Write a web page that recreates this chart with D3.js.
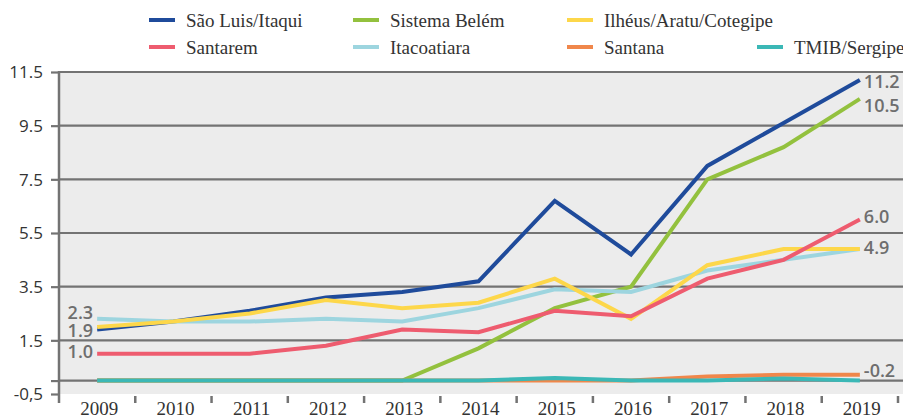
<!DOCTYPE html>
<html>
<head>
<meta charset="utf-8">
<script src="https://cdn.jsdelivr.net/npm/d3@7"></script>
<style>
  body { margin: 0; background: #fff; }
  svg { display: block; }
  .ytick text { font-family: "Open Sans", sans-serif; font-size: 17px; fill: #333; }
  .xtick { font-family: "Liberation Serif", serif; font-size: 19px; fill: #333; }
  .legend text { font-family: "Liberation Serif", serif; font-size: 19px; fill: #333; }
  .vlabel { font-family: "Open Sans", sans-serif; font-size: 18px; fill: #6e6e6e; font-weight: 600; }
</style>
</head>
<body>
<div id="chart"></div>
<script>
var years = ["2009","2010","2011","2012","2013","2014","2015","2016","2017","2018","2019"];

var saoLuis     = [1.9, 2.2, 2.6, 3.1, 3.3, 3.7, 6.7, 4.7, 8.0, 9.6, 11.2];
var sistema     = [0, 0, 0, 0, 0, 1.2, 2.7, 3.5, 7.5, 8.7, 10.5];
var ilheus      = [2.0, 2.2, 2.5, 3.0, 2.7, 2.9, 3.8, 2.3, 4.3, 4.9, 4.9];
var santarem    = [1.0, 1.0, 1.0, 1.3, 1.9, 1.8, 2.6, 2.4, 3.8, 4.5, 6.0];
var itacoatiara = [2.3, 2.2, 2.2, 2.3, 2.2, 2.7, 3.4, 3.3, 4.1, 4.5, 4.9];
var santana     = [0, 0, 0, 0, 0, 0, 0, 0, 0.15, 0.22, 0.22];
var tmib        = [0, 0, 0, 0, 0, 0, 0.1, 0, 0, 0.08, 0];

var yTicks = [-0.5, 0, 1.5, 3.5, 5.5, 7.5, 9.5, 11.5];
var gridValues = [0, 1.5, 3.5, 5.5, 7.5, 9.5, 11.5];

var series = [
  {name: "São Luis/Itaqui", values: saoLuis, color: "#1f4b9b"},
  {name: "Sistema Belém", values: sistema, color: "#93c13e"},
  {name: "Itacoatiara", values: itacoatiara, color: "#9dd5df"},
  {name: "Ilhéus/Aratu/Cotegipe", values: ilheus, color: "#fdd74a"},
  {name: "Santarem", values: santarem, color: "#ee5c6f"},
  {name: "Santana", values: santana, color: "#f0874b"},
  {name: "TMIB/Sergipe", values: tmib, color: "#3bb8b6"}
];

// legend layout rows
var legendRows = [
  ["São Luis/Itaqui", "Sistema Belém", "Ilhéus/Aratu/Cotegipe"],
  ["Santarem", "Itacoatiara", "Santana", "TMIB/Sergipe"]
];

// value labels at the line ends
var leftLabels = [
  {name: "Itacoatiara", text: "2.3", dy: -6},
  {name: "São Luis/Itaqui", text: "1.9", dy: 1},
  {name: "Santarem", text: "1.0", dy: -2}
];
var rightLabels = [
  {name: "São Luis/Itaqui", text: "11.2", dy: 2},
  {name: "Sistema Belém", text: "10.5", dy: 7},
  {name: "Santarem", text: "6.0", dy: -3},
  {name: "Itacoatiara", text: "4.9", dy: -1},
  {name: "Santana", text: "-0.2", dy: -4}
];

var width = 903, height = 416;
var margin = {top: 72, right: 5, bottom: 22, left: 59};

var svg = d3.select("#chart").append("svg")
  .attr("width", width)
  .attr("height", height);

var x = d3.scaleBand()
  .domain(years)
  .range([margin.left, width - margin.right])
  .paddingInner(0).paddingOuter(0);

var y = d3.scaleLinear()
  .domain([-0.5, 11.5])
  .range([height - margin.bottom, margin.top]);

var cx = function(i) { return x(years[i]) + x.bandwidth() / 2; };

// plot background
svg.append("rect")
  .attr("x", margin.left)
  .attr("y", y(11.5))
  .attr("width", width - margin.left)
  .attr("height", y(-0.5) - y(11.5))
  .attr("fill", "#ececec");

// grid lines
svg.append("g").selectAll("line")
  .data(gridValues).enter().append("line")
  .attr("x1", margin.left).attr("x2", width)
  .attr("y1", function(d) { return y(d); })
  .attr("y2", function(d) { return y(d); })
  .attr("stroke", "#737373")
  .attr("stroke-width", 2.2);

// y axis
var yAxis = d3.axisLeft(y)
  .tickValues(yTicks)
  .tickSize(8)
  .tickPadding(8)
  .tickFormat(function(d) {
    if (d === 0) return "";
    if (d === -0.5) return "-0,5";
    return d3.format(".1f")(d);
  });

var gy = svg.append("g")
  .attr("class", "ytick")
  .attr("transform", "translate(" + margin.left + ",0)")
  .call(yAxis);
gy.select(".domain").remove();
gy.selectAll("line").attr("stroke", "#737373").attr("stroke-width", 2.2);
gy.selectAll("text").attr("dy", "0.35em");

// left axis line
svg.append("line")
  .attr("x1", margin.left).attr("x2", margin.left)
  .attr("y1", y(11.5) - 1).attr("y2", y(-0.5) + 9)
  .attr("stroke", "#737373").attr("stroke-width", 2.5);

// x ticks at band edges
var edges = years.slice(1).map(function(d) { return x(d); }).concat([x.range()[1]]);
svg.append("g").selectAll("line")
  .data(edges).enter().append("line")
  .attr("x1", function(d) { return d; }).attr("x2", function(d) { return d; })
  .attr("y1", y(-0.5) + 2).attr("y2", y(-0.5) + 9)
  .attr("stroke", "#737373").attr("stroke-width", 2.5);

svg.append("g").selectAll("text")
  .data(years).enter().append("text")
  .attr("class", "xtick")
  .attr("x", function(d) { return x(d) + x.bandwidth() / 2 + 2; })
  .attr("y", y(-0.5) + 21)
  .attr("text-anchor", "middle")
  .text(function(d) { return d; });

// lines
var line = d3.line()
  .x(function(d, i) { return cx(i); })
  .y(function(d) { return y(d); });

svg.append("g").selectAll("path")
  .data(series).enter().append("path")
  .attr("d", function(d) { return line(d.values); })
  .attr("fill", "none")
  .attr("stroke", function(d) { return d.color; })
  .attr("stroke-width", 4)
  .attr("stroke-linejoin", "miter");

var byName = {};
series.forEach(function(s) { byName[s.name] = s; });

// value labels
svg.append("g").selectAll("text")
  .data(leftLabels).enter().append("text")
  .attr("class", "vlabel")
  .attr("x", cx(0) - 4)
  .attr("y", function(d) { return y(byName[d.name].values[0]) + d.dy; })
  .attr("dy", "0.35em")
  .attr("text-anchor", "end")
  .text(function(d) { return d.text; });

var last = years.length - 1;
svg.append("g").selectAll("text")
  .data(rightLabels).enter().append("text")
  .attr("class", "vlabel")
  .attr("x", cx(last) + 4)
  .attr("y", function(d) { return y(byName[d.name].values[last]) + d.dy; })
  .attr("dy", "0.35em")
  .attr("text-anchor", "start")
  .text(function(d) { return d.text; });

// legend
var legendCols = [149, 353, 567, 757];
var legendY = [20, 47];
var legend = svg.append("g").attr("class", "legend");
legendRows.forEach(function(row, r) {
  row.forEach(function(name, c) {
    var g = legend.append("g")
      .attr("transform", "translate(" + legendCols[c] + "," + legendY[r] + ")");
    g.append("line")
      .attr("x1", 0).attr("x2", 26)
      .attr("stroke", byName[name].color)
      .attr("stroke-width", 4);
    g.append("text")
      .attr("x", 37)
      .attr("dy", "0.35em")
      .text(name);
  });
});
</script>
</body>
</html>
